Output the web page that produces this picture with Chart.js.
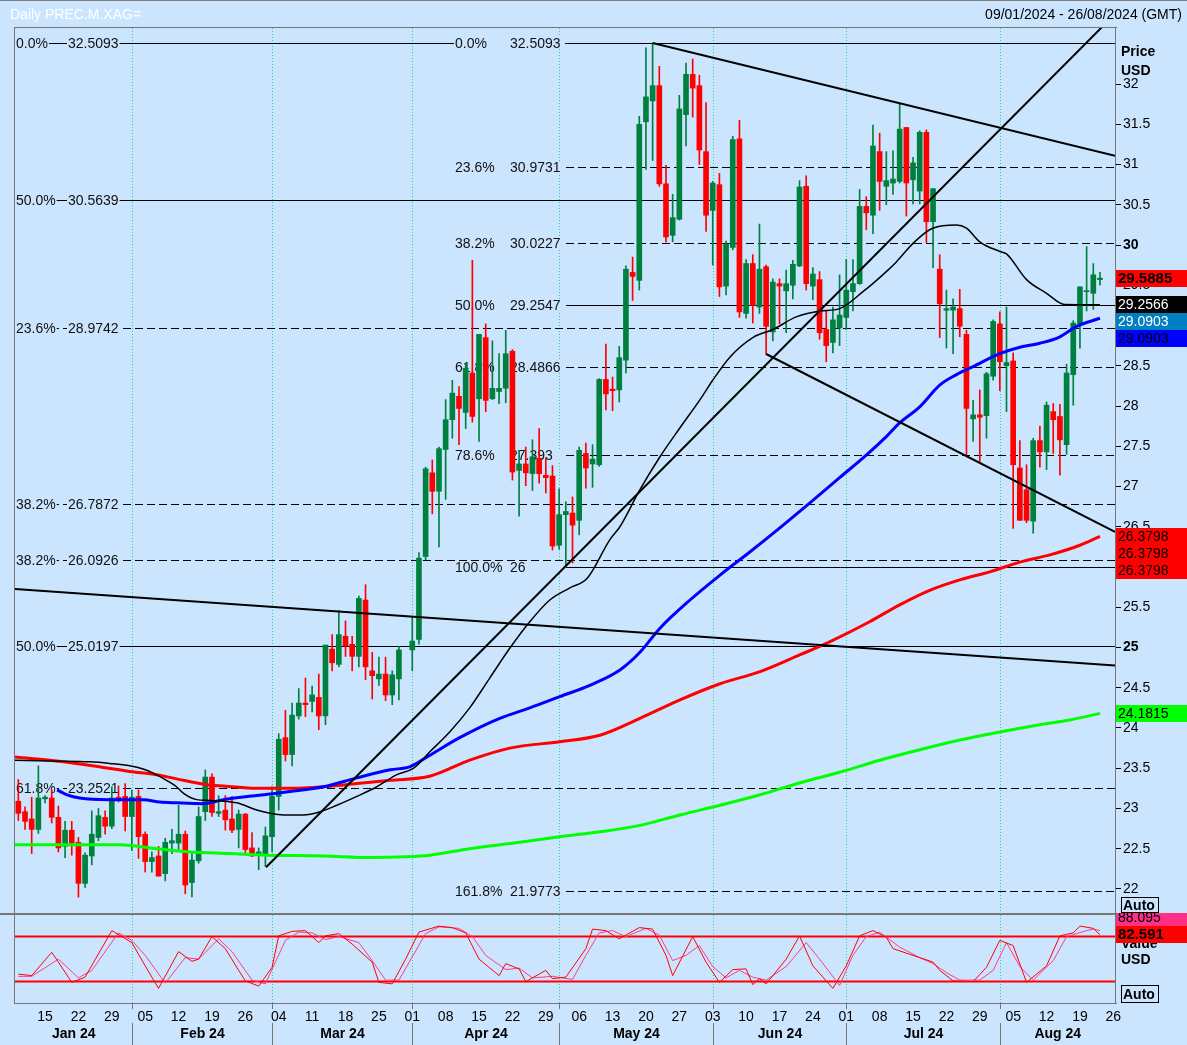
<!DOCTYPE html>
<html>
<head>
<meta charset="utf-8">
<script src="https://cdn.jsdelivr.net/npm/chart.js@4.4.1/dist/chart.umd.min.js"></script>
<style>
  html, body { margin: 0; padding: 0; background: #cce5ff; }
  #wrap { position: relative; width: 1187px; height: 1045px; overflow: hidden; background: #cce5ff; font-family: "Liberation Sans", Arial, sans-serif; }
  #mainBox { position: absolute; left: 0; top: 0; width: 1187px; height: 913px; }
  #oscBox { position: absolute; left: 0; top: 913px; width: 1187px; height: 132px; }
  #top { position: absolute; left: 0; top: 0; width: 1187px; height: 27px; border-top: 1px solid #7d7d7d; box-sizing: border-box; font-size: 14px; }
  #title { position: absolute; left: 10px; top: 5px; color: #fff; }
  #range { position: absolute; right: 5px; top: 5px; color: #000; }
</style>
</head>
<body>
<div id="wrap">
  <div id="mainBox"><canvas id="main" width="1187" height="913"></canvas></div>
  <div id="oscBox"><canvas id="osc" width="1187" height="132"></canvas></div>
  <div id="top"><span id="title">Daily PREC.M.XAG=</span><span id="range">09/01/2024 - 26/08/2024 (GMT)</span></div>
</div>
<script>
// one slot per weekday, 09 Jan 2024 = 0 ... 26 Aug 2024 = 164 (last candle 22 Aug = 162)
const mondayIdx = [4, 9, 14, 19, 24, 29, 34, 39, 44, 49, 54, 59, 64, 69, 74, 79, 84, 89, 94, 99, 104, 109, 114, 119, 124, 129, 134, 139, 144, 149, 154, 159, 164];
const mondayLbl = ['15', '22', '29', '05', '12', '19', '26', '04', '11', '18', '25', '01', '08', '15', '22', '29', '06', '13', '20', '27', '03', '10', '17', '24', '01', '08', '15', '22', '29', '05', '12', '19', '26'];
const monthStartIdx = [17, 38, 59, 81, 104, 124, 147];
const monthLbl = ['Jan 24', 'Feb 24', 'Mar 24', 'Apr 24', 'May 24', 'Jun 24', 'Jul 24', 'Aug 24'];

const opens = [
  23.09, 22.96, 22.87, 22.74, 23.12, 23.13, 22.89, 22.53, 22.73, 22.58, 22.07, 22.41, 22.64, 22.89, 22.78, 23.14, 23.15,
  22.90, 23.15, 22.68, 22.34, 22.41, 22.19, 22.57, 22.57, 22.68, 22.08, 22.35, 22.96, 23.39, 22.94, 22.98, 22.87, 22.74, 22.93, 22.51, 22.44, 22.43,
  22.65, 23.15, 23.88, 23.67, 24.15, 24.31, 24.33, 24.38, 24.15, 24.98, 24.79, 25.14, 25.04, 24.89, 25.59, 24.71, 24.61, 24.67, 24.41, 24.61, null,
  24.97, 25.10, 26.13, 27.17, 26.94, 27.46, 27.83, 28.12, 27.92, 28.41, 28.09, 28.85, 28.09, 28.18, 28.22, 28.68, 27.20, 27.28, 27.16, 27.35, 27.14, 27.13,
  26.27, 26.65, 26.67, 26.58, 27.41, 27.28, 27.27, 28.33, 28.21, 28.20, 28.57, 29.66, 29.56, 31.53, 31.79, 31.98, 30.76, 30.12, 30.32, 31.62, 32.12, 31.98, 31.16,
  30.43, 30.75, 29.49, 29.97, 31.32, 29.15, 29.77, 29.23, 29.73, 28.92, 29.52, 29.43, 29.50, 29.74, 30.73, 29.49, 29.57, 28.95, 28.79, 28.97,
  29.10, 29.42, 29.52, 30.48, 30.37, 31.16, 30.73, 30.77, 30.79, 31.46, 30.81, 30.67, 31.40, 30.29, 29.70, 29.19, 29.19, 29.21, 28.89, 27.84, 27.89, 27.88, 28.37,
  29.02, 28.50, 28.56, 27.23, 26.96, 26.57, 27.57, 27.43, 27.93, 27.87, 27.52, 28.39, 29.02, 29.42, 29.40, 29.57
];
const highs = [
  23.36, 23.02, 23.14, 23.53, 23.16, 23.23, 23.03, 22.84, 22.84, 22.64, 22.45, 22.97, 23.00, 22.97, 23.27, 23.28, 23.31,
  23.23, 23.23, 22.71, 22.46, 22.53, 22.63, 22.74, 23.04, 22.72, 22.45, 23.02, 23.48, 23.43, 23.16, 23.16, 23.15, 22.98, 22.94, 22.70, 22.51, 22.77,
  23.27, 23.93, 24.22, 24.31, 24.49, 24.62, 24.52, 24.67, 25.03, 25.16, 25.46, 25.33, 25.14, 25.64, 25.78, 24.94, 24.88, 24.88, 24.71, 25.01, null,
  25.38, 26.18, 27.24, 27.33, 27.49, 28.08, 28.32, 28.24, 28.53, 29.81, 28.89, 29.02, 28.81, 28.65, 28.94, 28.70, 27.45, 27.49, 27.58, 27.72, 27.35, 27.26,
  26.97, 26.81, 26.87, 27.49, 27.54, 27.52, 28.34, 28.77, 28.36, 28.74, 29.74, 29.85, 31.60, 32.45, 32.51, 32.22, 30.99, 30.63, 31.86, 32.26, 32.31, 32.11, 31.77,
  30.79, 30.89, 30.05, 31.35, 31.55, 29.82, 29.88, 30.26, 29.75, 29.58, 29.58, 29.69, 29.81, 30.80, 30.86, 29.72, 29.67, 29.19, 29.23, 29.63,
  29.82, 29.82, 30.69, 30.60, 31.49, 31.39, 31.16, 31.17, 31.75, 31.46, 31.09, 31.42, 31.43, 30.70, 29.88, 29.44, 29.33, 29.45, 28.94, 28.07, 28.20, 28.42, 29.07,
  29.17, 29.23, 28.66, 27.57, 27.27, 27.60, 27.75, 28.05, 28.03, 28.02, 28.52, 29.06, 29.48, 29.98, 29.77, 29.66
];
const lows = [
  22.85, 22.74, 22.44, 22.69, 23.07, 22.82, 22.46, 22.39, 22.42, 21.90, 22.02, 22.30, 22.60, 22.68, 22.75, 23.08, 22.72,
  22.48, 22.38, 22.21, 22.21, 22.16, 22.10, 22.44, 22.48, 21.94, 21.90, 22.32, 22.85, 22.90, 22.90, 22.73, 22.70, 22.51, 22.44, 22.40, 22.24, 22.28,
  22.46, 22.98, 23.59, 23.53, 24.11, 24.14, 24.20, 23.98, 24.04, 24.71, 24.76, 24.89, 24.71, 24.76, 24.60, 24.36, 24.53, 24.34, 24.29, 24.35, null,
  24.71, 25.04, 26.09, 26.66, 26.25, 26.84, 27.60, 27.52, 27.72, 27.80, 27.56, 27.93, 28.08, 28.03, 28.04, 27.08, 26.63, 27.01, 26.95, 27.04, 26.92, 26.21,
  26.22, 26.01, 26.05, 26.40, 26.98, 26.99, 27.25, 27.95, 27.94, 28.05, 28.41, 29.31, 29.44, 30.94, 31.05, 30.73, 30.04, 30.04, 30.31, 31.23, 31.59, 31.00, 30.17,
  29.75, 29.36, 29.38, 29.94, 29.10, 29.09, 29.03, 29.15, 28.64, 28.81, 29.02, 28.91, 29.33, 29.73, 29.44, 29.32, 28.83, 28.55, 28.66, 28.75,
  28.95, 29.18, 29.51, 30.19, 30.14, 30.43, 30.50, 30.63, 30.77, 30.36, 30.51, 30.51, 30.03, 29.72, 28.85, 28.72, 28.65, 28.86, 27.39, 27.56, 27.31, 27.60, 28.32,
  28.19, 27.93, 26.48, 26.58, 26.55, 26.42, 27.24, 27.21, 27.41, 27.14, 27.40, 28.01, 28.72, 29.18, 29.20, 29.50
];
const closes = [
  22.94, 22.84, 22.74, 23.13, 23.14, 22.89, 22.51, 22.73, 22.57, 22.07, 22.42, 22.68, 22.91, 22.78, 23.13, 23.11, 22.90,
  23.14, 22.65, 22.34, 22.39, 22.16, 22.58, 22.60, 22.68, 22.05, 22.36, 22.90, 23.39, 22.95, 22.96, 22.86, 22.73, 22.93, 22.49, 22.41, 22.46, 22.66,
  23.15, 23.86, 23.67, 24.16, 24.31, 24.29, 24.41, 24.15, 25.03, 24.81, 25.16, 25.02, 24.89, 25.61, 24.76, 24.65, 24.67, 24.41, 24.66, 24.97, null,
  25.08, 26.11, 27.22, 26.94, 27.47, 27.83, 28.16, 27.97, 28.47, 27.87, 28.89, 28.07, 28.22, 28.22, 28.65, 27.18, 27.28, 27.17, 27.37, 27.16, 27.11, 26.26,
  26.65, 26.69, 26.52, 27.45, 27.23, 27.34, 28.33, 28.15, 28.19, 28.60, 29.70, 29.61, 31.50, 31.84, 31.98, 30.76, 30.10, 30.34, 31.69, 32.12, 31.95, 31.18, 30.37,
  30.77, 29.48, 30.01, 31.31, 29.17, 29.77, 29.25, 29.70, 28.99, 29.54, 29.49, 29.52, 29.76, 30.72, 29.52, 29.64, 28.91, 28.75, 29.07, 29.13,
  29.44, 29.52, 30.48, 30.40, 31.23, 30.79, 30.80, 30.82, 31.44, 30.77, 31.02, 31.40, 30.29, 30.70, 29.27, 29.21, 29.23, 28.99, 27.97, 27.89, 27.86, 28.40, 29.05,
  28.55, 28.54, 27.27, 26.58, 26.58, 27.57, 27.43, 28.01, 27.83, 27.58, 28.41, 29.03, 29.48, 29.43, 29.63, 29.5885
];

// moving averages: [slot, price]
const maBlack = [[-0.5, 23.60], [4.7, 23.59], [10.7, 23.58], [13.7, 23.56], [16.7, 23.53], [18.7, 23.49], [20.2, 23.44], [22.2, 23.35], [23.7, 23.27], [24.7, 23.19], [26.7, 23.11], [28.7, 23.10], [32.7, 23.07], [35.7, 22.98], [37.7, 22.94], [39.7, 22.92], [42.7, 22.92], [45.2, 22.96], [47.7, 23.04], [50.7, 23.15], [53.7, 23.27], [56.7, 23.42], [59.2, 23.50], [61.7, 23.71], [64.6, 23.95], [67.6, 24.25], [70.6, 24.62], [73.6, 24.99], [76.6, 25.32], [79.6, 25.59], [82.6, 25.74], [85.2, 25.86], [88.6, 26.34], [90.1, 26.50], [93.1, 26.96], [96.1, 27.37], [99.1, 27.73], [102.1, 28.08], [104.0, 28.32], [106.6, 28.61], [110.0, 28.85], [113.0, 28.95], [116.6, 29.11], [120.1, 29.18], [123.0, 29.21], [126.5, 29.42], [130.0, 29.67], [131.5, 29.79], [134.0, 30.02], [136.5, 30.19], [138.5, 30.24], [140.5, 30.25], [142.0, 30.21], [144.0, 30.04], [147.0, 29.92], [148.0, 29.89], [151.0, 29.57], [154.0, 29.40], [156.7, 29.26], [162.0, 29.2566]];
const maBlue = [[5.8, 23.23], [7.3, 23.17], [9.2, 23.13], [13.7, 23.11], [18.7, 23.11], [21.2, 23.08], [23.7, 23.07], [27.7, 23.06], [30.7, 23.11], [35.7, 23.16], [40.7, 23.21], [45.7, 23.27], [50.7, 23.38], [55.7, 23.48], [58.7, 23.52], [61.6, 23.66], [66.1, 23.88], [72.1, 24.12], [76.6, 24.25], [81.1, 24.39], [85.6, 24.53], [90.1, 24.72], [93.1, 24.94], [96.1, 25.24], [100.6, 25.59], [105.1, 25.90], [109.6, 26.19], [114.1, 26.49], [118.6, 26.80], [123.0, 27.11], [127.0, 27.39], [130.0, 27.62], [132.0, 27.79], [135.0, 27.99], [138.0, 28.26], [140.5, 28.39], [143.0, 28.49], [147.0, 28.65], [150.0, 28.73], [153.0, 28.78], [156.0, 28.86], [158.5, 28.99], [162.0, 29.0903]];
const maRed = [[-0.5, 23.64], [4.7, 23.60], [8.7, 23.56], [12.7, 23.51], [16.7, 23.46], [20.7, 23.42], [24.7, 23.35], [28.7, 23.29], [30.7, 23.28], [35.7, 23.25], [40.7, 23.25], [45.7, 23.27], [50.7, 23.31], [55.7, 23.35], [61.6, 23.40], [67.6, 23.60], [73.6, 23.75], [81.1, 23.83], [87.1, 23.91], [93.1, 24.12], [99.1, 24.35], [105.1, 24.55], [111.1, 24.70], [117.1, 24.91], [121.5, 25.07], [127.5, 25.32], [132.0, 25.53], [136.5, 25.71], [141.0, 25.84], [145.5, 25.94], [150.0, 26.06], [154.5, 26.15], [159.0, 26.27], [162.0, 26.3798]];
const maGreen = [[-0.5, 22.55], [15.2, 22.55], [19.7, 22.51], [25.7, 22.46], [31.7, 22.44], [37.2, 22.42], [45.7, 22.41], [52.7, 22.39], [58.2, 22.40], [61.6, 22.42], [67.6, 22.50], [75.1, 22.58], [81.1, 22.65], [87.1, 22.71], [93.1, 22.79], [99.1, 22.92], [105.1, 23.04], [111.1, 23.17], [117.1, 23.32], [123.0, 23.45], [129.0, 23.60], [135.0, 23.73], [141.0, 23.85], [147.0, 23.95], [153.0, 24.04], [157.5, 24.10], [162.0, 24.1815]];

// trend lines: two end points each [slot, price]
const trendUp = [[37.1, 22.27], [164.25, 32.87]];
const trendTop = [[95, 32.5093], [164.25, 31.11]];
const trendLow = [[112, 28.646], [164.25, 26.435]];
const trendLong = [[-0.5, 25.727], [164.25, 24.777]];

// fibonacci levels
const fibLeftPct = ['0.0%', '50.0%', '23.6%', '38.2%', '38.2%', '50.0%', '61.8%'];
const fibLeftVal = [32.5093, 30.5639, 28.9742, 26.7872, 26.0926, 25.0197, 23.2521];
const fibLeftDash = [false, false, true, true, true, false, true];
const fibRightPct = ['0.0%', '23.6%', '38.2%', '50.0%', '61.8%', '78.6%', '100.0%', '161.8%'];
const fibRightVal = [32.5093, 30.9731, 30.0227, 29.2547, 28.4866, 27.393, 26, 21.9773];
const fibRightDash = [false, true, true, false, true, true, false, true];
const fibRightStart = 82;

const priceTicks = [22, 22.5, 23, 23.5, 24, 24.5, 25, 25.5, 26, 26.5, 27, 27.5, 28, 28.5, 29, 29.5, 30, 30.5, 31, 31.5, 32];
const tagValues = [29.5885, 29.2566, 29.0903, 29.0903, 26.3798, 26.3798, 26.3798, 24.1815];
const tagFill = ['#ff0000', '#000000', '#0080c0', '#0000ff', '#ff0000', '#ff0000', '#ff0000', '#00ff00'];
const tagInk = ['#000', '#fff', '#fff', '#000', '#000', '#000', '#000', '#000'];

// stochastic, [slot] and [value]
const stochKIdx = [0, 2, 5, 6, 8, 10, 14, 17, 19, 21, 24, 26, 27, 29, 31, 33, 34, 36, 38, 39, 41, 43, 45, 46, 48, 50, 53, 54, 56, 58, 60, 63, 65, 67, 69, 72, 73, 75, 76, 78, 79, 80, 82, 85, 86, 88, 90, 93, 95, 97, 98, 101, 103, 105, 107, 109, 110, 111, 112, 115, 117, 119, 122, 124, 126, 128, 130, 131, 134, 137, 138, 140, 143, 145, 147, 149, 151, 154, 156, 158, 159, 161, 162];
const stochKVal = [30, 28, 59, 46, 19, 26, 88, 72, 41, 11, 60, 47, 50, 80, 64, 35, 21, 14, 39, 81, 87, 88, 72, 81, 84, 70, 46, 19, 17, 50, 86, 94, 92, 85, 50, 28, 44, 37, 20, 30, 35, 24, 26, 64, 90, 88, 77, 92, 90, 55, 28, 80, 46, 19, 36, 37, 16, 24, 17, 50, 81, 41, 11, 41, 81, 88, 79, 64, 55, 46, 35, 21, 20, 39, 75, 68, 19, 41, 81, 85, 94, 91, 82.591];
const stochDIdx = [0, 2, 6, 9, 11, 15, 17, 19, 22, 25, 27, 30, 32, 35, 37, 40, 42, 44, 46, 48, 51, 53, 55, 57, 61, 63, 66, 68, 70, 73, 75, 77, 80, 83, 85, 87, 89, 91, 94, 96, 98, 100, 102, 104, 106, 108, 110, 112, 115, 118, 120, 123, 125, 127, 129, 132, 135, 137, 139, 141, 144, 146, 148, 150, 152, 155, 157, 160, 161, 162];
const stochDVal = [27, 27, 50, 25, 35, 85, 75, 55, 18, 52, 50, 77, 60, 22, 17, 75, 86, 85, 76, 80, 72, 48, 22, 22, 84, 93, 91, 80, 55, 36, 38, 25, 27, 23, 55, 85, 88, 80, 91, 82, 48, 55, 68, 40, 25, 35, 26, 22, 40, 72, 50, 15, 55, 80, 86, 66, 52, 44, 32, 22, 22, 35, 72, 40, 22, 48, 80, 88, 90, 88.095];
const stochLevels = [80, 20];

const BG = '#cce5ff';
const FRAME = '#767676';
const UP = '#00803f';
const DOWN = '#ff0000';
const MONTH_GRID = '#22d98a';
const FONT = '"Liberation Sans", Arial, sans-serif';
const X_MIN = -0.5, X_MAX = 164.25;

const wicks = [], bodies = [], candleCol = [];
for (let i = 0; i < opens.length; i++) {
  if (opens[i] == null) continue;
  wicks.push({ x: i, y: [lows[i], highs[i]] });
  bodies.push({ x: i, y: [opens[i], closes[i]] });
  candleCol.push(closes[i] >= opens[i] ? UP : DOWN);
}
const pts = arr => arr.map(p => ({ x: p[0], y: p[1] }));
const lineDs = (arr, color, width, smooth) => ({
  type: 'line', data: pts(arr), borderColor: color, borderWidth: width, pointRadius: 0,
  tension: 0, cubicInterpolationMode: smooth ? 'monotone' : 'default', fill: false
});

const mainDeco = {
  id: 'mainDeco',
  beforeDatasetsDraw(chart) {
    const { ctx, chartArea: a, scales: { x, y } } = chart;
    ctx.save();
    ctx.lineWidth = 1;
    ctx.strokeStyle = MONTH_GRID;
    ctx.setLineDash([1, 2]);
    monthStartIdx.forEach(i => {
      const px = Math.round(x.getPixelForValue(i)) + 0.5;
      ctx.beginPath(); ctx.moveTo(px, a.top); ctx.lineTo(px, a.bottom); ctx.stroke();
    });
    ctx.strokeStyle = '#000';
    const rx0 = Math.round(x.getPixelForValue(fibRightStart));
    const lines = (vals, dash, x0) => vals.forEach((v, k) => {
      const py = Math.round(y.getPixelForValue(v)) + 0.5;
      ctx.setLineDash(dash[k] ? [8, 4] : []);
      ctx.beginPath(); ctx.moveTo(x0, py); ctx.lineTo(a.right, py); ctx.stroke();
    });
    lines(fibLeftVal, fibLeftDash, a.left);
    lines(fibRightVal, fibRightDash, rx0);
    ctx.setLineDash([]);

    ctx.font = '14px ' + FONT;
    ctx.textBaseline = 'middle';
    const label = (txt, tx, py) => {
      const w = ctx.measureText(txt).width;
      ctx.fillStyle = BG;
      ctx.fillRect(tx - 1, py - 6, w + 2, 12);
      ctx.fillStyle = '#111';
      ctx.fillText(txt, tx, py + 1);
    };
    fibLeftVal.forEach((v, k) => {
      const py = Math.round(y.getPixelForValue(v));
      label(fibLeftPct[k], a.left + 1, py);
      label(String(v), a.left + 53, py);
    });
    fibRightVal.forEach((v, k) => {
      const py = Math.round(y.getPixelForValue(v));
      ctx.fillStyle = BG;
      ctx.fillRect(rx0 - 112, py - 6, 111, 12);
      ctx.fillStyle = '#111';
      ctx.fillText(fibRightPct[k], rx0 - 111, py + 1);
      ctx.fillText(String(v), rx0 - 56, py + 1);
    });
    ctx.restore();
  },
  afterDraw(chart) {
    const { ctx, chartArea: a, scales: { y } } = chart;
    ctx.save();
    ctx.fillStyle = FRAME;
    ctx.fillRect(a.left - 1, a.top - 1, a.right - a.left + 3, 1);
    ctx.fillRect(a.left - 1, a.top - 1, 1, chart.height - a.top + 1);
    ctx.fillStyle = '#000';
    ctx.font = 'bold 14px ' + FONT;
    ctx.textBaseline = 'middle';
    ctx.fillText('Price', a.right + 6, 52);
    ctx.fillText('USD', a.right + 6, 71);
    let prevBottom = -1e9;
    tagValues.forEach((v, k) => {
      let top = Math.round(y.getPixelForValue(v) - 8.5);
      if (top < prevBottom) top = prevBottom;
      ctx.fillStyle = tagFill[k];
      ctx.fillRect(a.right + 1, top, 72, 17);
      ctx.fillStyle = tagInk[k];
      ctx.font = (k === 0 ? 'bold 15px ' : '14px ') + FONT;
      ctx.fillText(String(v), a.right + 3, top + 9);
      prevBottom = top + 17;
    });
    ctx.strokeStyle = '#000';
    ctx.lineWidth = 1;
    ctx.strokeRect(a.right + 6.5, 897.5, 37, 15);
    ctx.fillStyle = '#000';
    ctx.font = 'bold 14px ' + FONT;
    ctx.fillText('Auto', a.right + 8, 906);
    ctx.restore();
  }
};

new Chart(document.getElementById('main'), {
  type: 'bar',
  data: {
    datasets: [
      lineDs(trendUp, '#000', 2, false),
      lineDs(trendTop, '#000', 2, false),
      lineDs(trendLow, '#000', 2, false),
      lineDs(trendLong, '#000', 2, false),
      lineDs(maBlack, '#000', 1.5, true),
      lineDs(maBlue, '#0000ff', 3, true),
      lineDs(maRed, '#ff0000', 3, true),
      lineDs(maGreen, '#00ff00', 3, true),
      { data: bodies, backgroundColor: candleCol, barThickness: 5, grouped: false, minBarLength: 1, borderWidth: 0 },
      { data: wicks, backgroundColor: candleCol, barThickness: 1, grouped: false, minBarLength: 1, borderWidth: 0 }
    ]
  },
  options: {
    responsive: false, animation: false, devicePixelRatio: 1, events: [],
    layout: { padding: { left: 15, top: 28, bottom: 1, right: 0 } },
    plugins: { legend: { display: false }, tooltip: { enabled: false } },
    scales: {
      x: { type: 'linear', min: X_MIN, max: X_MAX, display: false, offset: false },
      y: {
        type: 'linear', position: 'right', min: 21.714, max: 32.696,
        afterBuildTicks: s => { s.ticks = priceTicks.map(v => ({ value: v })); },
        afterFit: s => { s.width = 72; s.paddingTop = 0; s.paddingBottom = 0; },
        ticks: {
          autoSkip: false, color: '#000', padding: 2,
          callback: v => String(v),
          font: c => ({ family: FONT, size: 14, weight: (c.tick && c.tick.value % 5 === 0) ? 'bold' : 'normal' })
        },
        grid: { drawOnChartArea: false, tickLength: 6, color: '#000' },
        border: { color: FRAME }
      }
    }
  },
  plugins: [mainDeco]
});

const oscDeco = {
  id: 'oscDeco',
  beforeDatasetsDraw(chart) {
    const { ctx, chartArea: a, scales: { x } } = chart;
    ctx.save();
    ctx.lineWidth = 1;
    ctx.strokeStyle = MONTH_GRID;
    ctx.setLineDash([1, 2]);
    monthStartIdx.forEach(i => {
      const px = Math.round(x.getPixelForValue(i)) + 0.5;
      ctx.beginPath(); ctx.moveTo(px, a.top); ctx.lineTo(px, a.bottom); ctx.stroke();
    });
    ctx.restore();
  },
  afterDraw(chart) {
    const { ctx, chartArea: a, scales: { x, y } } = chart;
    ctx.save();
    ctx.fillStyle = FRAME;
    ctx.fillRect(a.left - 1, 0, 1, a.bottom);
    ctx.fillRect(a.left - 1, a.bottom, a.right - a.left + 3, 1);
    // month row
    const bounds = [a.left].concat(monthStartIdx.map(i => Math.round(x.getPixelForValue(i)) + 0.5), [a.right]);
    ctx.strokeStyle = FRAME;
    ctx.lineWidth = 1;
    monthStartIdx.forEach(i => {
      const px = Math.round(x.getPixelForValue(i)) + 0.5;
      ctx.beginPath(); ctx.moveTo(px, a.bottom); ctx.lineTo(px, a.bottom + 6); ctx.stroke();
      ctx.beginPath(); ctx.moveTo(px, a.bottom + 20); ctx.lineTo(px, chart.height); ctx.stroke();
    });
    ctx.fillStyle = '#000';
    ctx.font = 'bold 14px ' + FONT;
    ctx.textAlign = 'center';
    ctx.textBaseline = 'middle';
    monthLbl.forEach((m, k) => ctx.fillText(m, (bounds[k] + bounds[k + 1]) / 2, a.bottom + 31));
    ctx.textAlign = 'left';
    // right side
    ctx.fillText('Value', a.right + 6, 31);
    const redTop = Math.round(y.getPixelForValue(stochKVal[stochKVal.length - 1]) - 8.5);
    ctx.fillStyle = '#ff0000';
    ctx.fillRect(a.right + 1, redTop, 72, 17);
    ctx.fillStyle = '#ff2f86';
    ctx.fillRect(a.right + 1, redTop - 17, 72, 17);
    ctx.fillStyle = '#000';
    ctx.font = 'bold 15px ' + FONT;
    ctx.fillText(String(stochKVal[stochKVal.length - 1]), a.right + 3, redTop + 9);
    ctx.font = '14px ' + FONT;
    ctx.fillText(String(stochDVal[stochDVal.length - 1]), a.right + 3, redTop - 8);
    ctx.fillStyle = FRAME;
    ctx.fillRect(0, 0, a.right + 2, 2);
    ctx.fillStyle = '#000';
    ctx.font = 'bold 14px ' + FONT;
    ctx.fillText('USD', a.right + 6, 47);
    ctx.strokeStyle = '#000';
    ctx.strokeRect(a.right + 6.5, 72.5, 37, 17);
    ctx.fillText('Auto', a.right + 8, 82);
    ctx.restore();
  }
};

new Chart(document.getElementById('osc'), {
  type: 'line',
  data: {
    datasets: [
      { data: stochKIdx.map((v, k) => ({ x: v, y: stochKVal[k] })), borderColor: '#ff0000', borderWidth: 1, pointRadius: 0, tension: 0 },
      { data: stochDIdx.map((v, k) => ({ x: v, y: stochDVal[k] })), borderColor: '#ff3a8c', borderWidth: 1, pointRadius: 0, tension: 0 },
      { data: [{ x: X_MIN, y: stochLevels[0] }, { x: X_MAX, y: stochLevels[0] }], borderColor: '#ff0000', borderWidth: 2, pointRadius: 0 },
      { data: [{ x: X_MIN, y: stochLevels[1] }, { x: X_MAX, y: stochLevels[1] }], borderColor: '#ff0000', borderWidth: 2, pointRadius: 0 }
    ]
  },
  options: {
    responsive: false, animation: false, devicePixelRatio: 1, events: [],
    layout: { padding: { left: 15, top: 2, bottom: 0, right: 0 } },
    plugins: { legend: { display: false }, tooltip: { enabled: false } },
    scales: {
      x: {
        type: 'linear', min: X_MIN, max: X_MAX, offset: false,
        afterBuildTicks: s => { s.ticks = mondayIdx.map(v => ({ value: v })); },
        afterFit: s => { s.height = 42; },
        ticks: { autoSkip: false, maxRotation: 0, padding: 6, color: '#000', font: { family: FONT, size: 14 }, callback: (v, i) => mondayLbl[i] },
        grid: { display: false, drawTicks: false },
        border: { display: false }
      },
      y: {
        type: 'linear', position: 'right', min: -8.5, max: 108.8,
        afterFit: s => { s.width = 72; },
        ticks: { display: false },
        grid: { display: false },
        border: { color: FRAME }
      }
    }
  },
  plugins: [oscDeco]
});
</script>
</body>
</html>
